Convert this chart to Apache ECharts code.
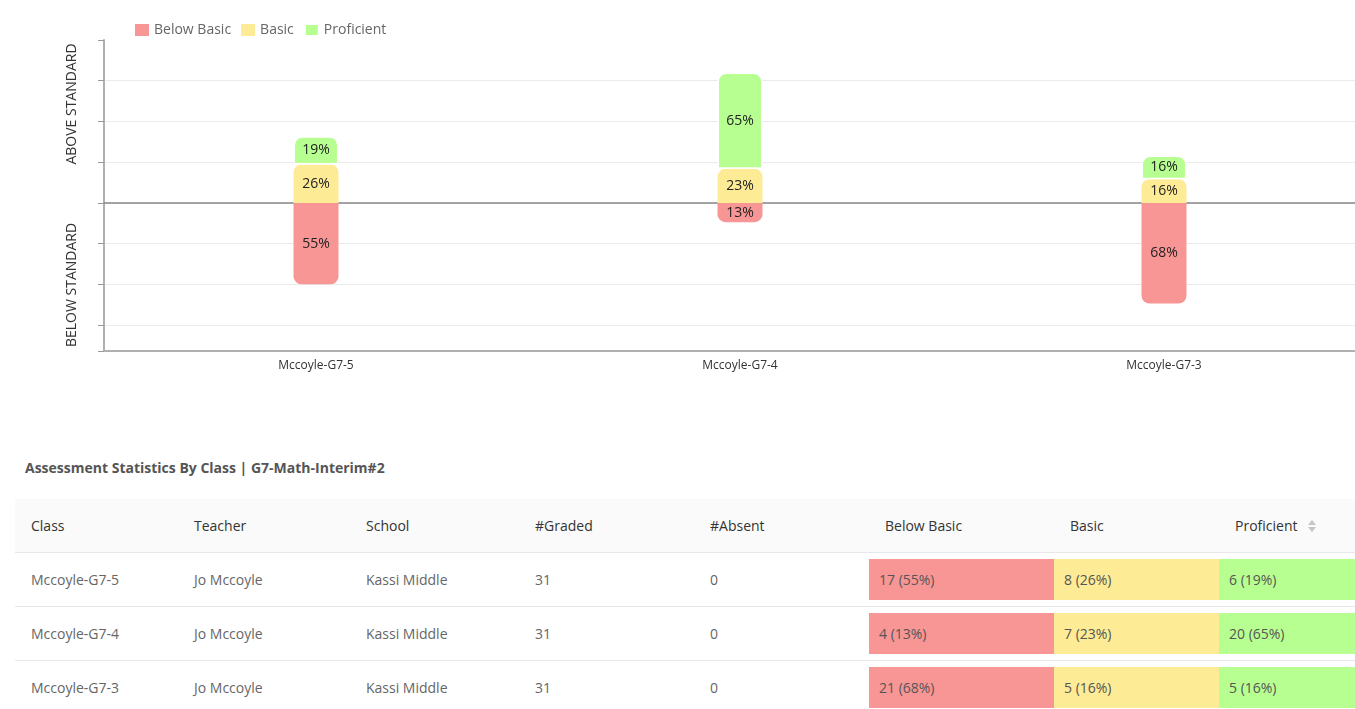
<!DOCTYPE html>
<html>
<head>
<meta charset="utf-8">
<script src="https://cdn.jsdelivr.net/npm/echarts@6/dist/echarts.min.js"></script>
<style>
  html, body { margin: 0; padding: 0; background: #fff; font-family: "Open Sans", sans-serif; }
  #wrap { position: relative; width: 1355px; height: 709px; overflow: hidden; }
  #chart { position: absolute; left: 0; top: 0; width: 1355px; height: 400px; }
  #title { position: absolute; left: 25px; top: 458px; font-size: 14px; font-weight: 700; color: #555; white-space: nowrap; line-height: 20px; }
  #tbl { position: absolute; left: 15px; top: 499px; width: 1340px; border-collapse: collapse; table-layout: fixed; font-size: 14px; }
  #tbl th { background: #fafafa; color: #333; font-weight: 400; text-align: left; height: 53px; padding: 0 0 0 16px; border-bottom: 1px solid #e8e8e8; box-sizing: border-box; }
  #tbl td { color: #666; height: 54px; padding: 0 0 0 16px; border-bottom: 1px solid #e8e8e8; box-sizing: border-box; }
  #tbl td.lvl { padding: 0; }
  #tbl td.lvl div { height: 41px; line-height: 41px; padding-left: 10px; color: #555; }
  .sort { display: inline-block; vertical-align: middle; margin-left: 10px; position: relative; width: 8px; height: 12px; top: -1px; }
  .sort:before, .sort:after { content: ""; position: absolute; left: 0; border-left: 4px solid transparent; border-right: 4px solid transparent; }
  .sort:before { top: 0; border-bottom: 5px solid #c4c4c4; }
  .sort:after { bottom: 0; border-top: 5px solid #c4c4c4; }
</style>
</head>
<body>
<div id="wrap">
  <div id="chart"></div>
  <div id="title"></div>
  <table id="tbl">
    <colgroup>
      <col style="width:163px"><col style="width:172px"><col style="width:169px"><col style="width:175px">
      <col style="width:175px"><col style="width:185px"><col style="width:165px"><col style="width:136px">
    </colgroup>
    <thead><tr id="head"></tr></thead>
    <tbody id="body"></tbody>
  </table>
</div>
<script>
// ---- data ----
const categories = ['Mccoyle-G7-5', 'Mccoyle-G7-4', 'Mccoyle-G7-3'];
const teachers = ['Jo Mccoyle', 'Jo Mccoyle', 'Jo Mccoyle'];
const schools = ['Kassi Middle', 'Kassi Middle', 'Kassi Middle'];
const gradedCount = [31, 31, 31];
const absentCount = [0, 0, 0];
const belowBasicCount = [17, 4, 21];
const basicCount = [8, 7, 5];
const proficientCount = [6, 20, 5];
const belowBasicPct = [55, 13, 68];
const basicPct = [26, 23, 16];
const proficientPct = [19, 65, 16];
const levelNames = ['Below Basic', 'Basic', 'Proficient'];
const levelColors = ['#f89595', '#fdeb95', '#b8ff91'];
const yTicks = [-100, -82.5, -55, -27.5, 0, 27.5, 55, 82.5, 110];
const tableHeaders = ['Class', 'Teacher', 'School', '#Graded', '#Absent', 'Below Basic', 'Basic', 'Proficient'];
const tableTitle = 'Assessment Statistics By Class | G7-Math-Interim#2';

// ---- chart ----
const chart = echarts.init(document.getElementById('chart'));
const font = '"Open Sans", sans-serif';
const pctLabel = {
  show: true, position: 'inside', color: '#222', fontSize: 14, fontFamily: font,
  formatter: p => Math.abs(p.value) + '%'
};
chart.setOption({
  animation: false,
  textStyle: { fontFamily: font },
  legend: {
    left: 130, top: 18, itemWidth: 14, itemHeight: 12, itemGap: 10, icon: 'rect',
    textStyle: { color: '#666', fontSize: 14, fontFamily: font },
    data: levelNames
  },
  grid: { left: 104, width: 1272, top: 40, bottom: 49, containLabel: false, outerBoundsMode: 'none' },
  xAxis: [{
    type: 'category', data: categories, position: 'bottom',
    axisLine: { onZero: false, lineStyle: { color: '#b0b0b0', width: 2 } },
    axisTick: { alignWithLabel: true, length: 5, lineStyle: { color: '#999' } },
    axisLabel: { color: '#333', fontSize: 12, margin: 9, fontFamily: font }
  }, {
    type: 'category', data: categories, position: 'top', z: 0,
    axisLine: { onZero: true, lineStyle: { color: '#888', width: 1.5 } },
    axisTick: { show: false }, axisLabel: { show: false }
  }],
  yAxis: {
    type: 'value', min: -100, max: 110,
    axisLine: { show: true, lineStyle: { color: '#b0b0b0', width: 2 } },
    axisTick: { show: true, length: 6, customValues: yTicks, lineStyle: { color: '#999' } },
    axisLabel: { show: false, customValues: yTicks },
    splitLine: { show: true, showMaxLine: false, lineStyle: { color: '#ebebeb' } }
  },
  graphic: [
    { type: 'text', x: 72, y: 104, rotation: Math.PI / 2,
      style: { text: 'ABOVE STANDARD', fill: '#333', fontSize: 14, fontFamily: font, align: 'center', verticalAlign: 'middle' } },
    { type: 'text', x: 72, y: 285, rotation: Math.PI / 2,
      style: { text: 'BELOW STANDARD', fill: '#333', fontSize: 14, fontFamily: font, align: 'center', verticalAlign: 'middle' } }
  ],
  series: [
    { name: levelNames[0], type: 'bar', stack: 'all', barWidth: 45, z: 3,
      data: belowBasicPct.map(v => -v),
      itemStyle: { color: levelColors[0], borderRadius: [0, 0, 8, 8] },
      label: pctLabel },
    { name: levelNames[1], type: 'bar', stack: 'all', barWidth: 45, z: 3,
      data: basicPct,
      itemStyle: { color: levelColors[1], borderRadius: [8, 8, 0, 0] },
      label: pctLabel },
    { name: levelNames[2], type: 'bar', stack: 'all', barWidth: 45, z: 3,
      data: proficientPct,
      itemStyle: { color: levelColors[2], borderRadius: [8, 8, 0, 0], borderColor: '#fff', borderWidth: 1.5 },
      label: pctLabel }
  ]
});

// ---- table ----
document.getElementById('title').textContent = tableTitle;
const head = document.getElementById('head');
tableHeaders.forEach((h, i) => {
  const th = document.createElement('th');
  th.textContent = h;
  if (i === tableHeaders.length - 1) {
    const s = document.createElement('span'); s.className = 'sort'; th.appendChild(s);
  }
  head.appendChild(th);
});
const body = document.getElementById('body');
categories.forEach((c, r) => {
  const tr = document.createElement('tr');
  [c, teachers[r], schools[r], gradedCount[r], absentCount[r]].forEach(v => {
    const td = document.createElement('td'); td.textContent = v; tr.appendChild(td);
  });
  const counts = [belowBasicCount[r], basicCount[r], proficientCount[r]];
  const pcts = [belowBasicPct[r], basicPct[r], proficientPct[r]];
  counts.forEach((n, k) => {
    const td = document.createElement('td'); td.className = 'lvl';
    const d = document.createElement('div');
    d.style.background = levelColors[k];
    d.textContent = n + ' (' + pcts[k] + '%)';
    td.appendChild(d); tr.appendChild(td);
  });
  body.appendChild(tr);
});
</script>
</body>
</html>
